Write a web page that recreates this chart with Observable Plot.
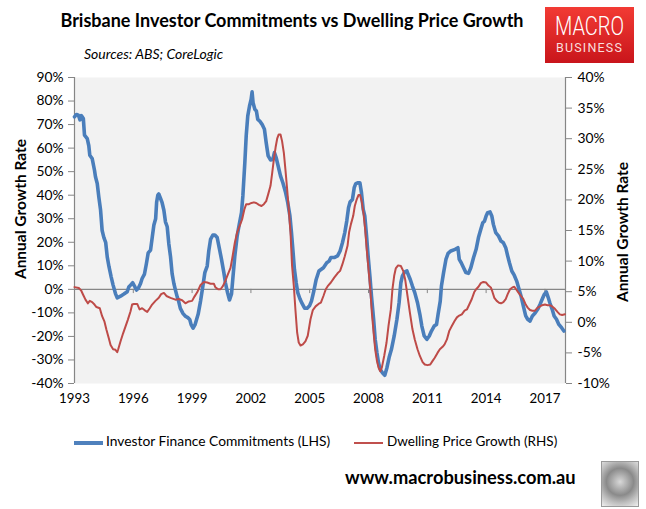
<!DOCTYPE html>
<html>
<head>
<meta charset="utf-8">
<script src="https://cdn.jsdelivr.net/npm/d3@7"></script>
<script src="https://cdn.jsdelivr.net/npm/@observablehq/plot@0.6"></script>
<style>
  html, body { margin: 0; padding: 0; background: #fff; }
  #page { position: relative; width: 646px; height: 509px; overflow: hidden; font-family: Lato, "Open Sans", sans-serif; color: #000; }
  #chart { position: absolute; left: 0; top: 0; }
  .abs { position: absolute; white-space: nowrap; }
</style>
</head>
<body>
<div id="page">
  <div id="chart"></div>
  <div class="abs" id="title" style="left:0; width:584px; top:9px; text-align:center; font-weight:700; font-size:18px;">Brisbane Investor Commitments vs Dwelling Price Growth</div>
  <div class="abs" style="left:84px; top:45px; font-style:italic; font-size:14px;">Sources: ABS; CoreLogic</div>
  <div class="abs" style="left:545px; top:7px; width:89px; height:56px; background:linear-gradient(#f23b34,#c9151b);">
    <div class="abs" style="left:0; width:89px; top:7px; text-align:center; color:#fff; font-family:Roboto, sans-serif; font-weight:300; font-size:25px; line-height:26px; transform:scaleX(0.8);">MACRO</div>
    <div class="abs" style="left:0; width:89px; top:34px; text-align:center; color:#f9dede; font-family:Roboto, sans-serif; font-size:12.5px; letter-spacing:1.2px; line-height:14px;">BUSINESS</div>
  </div>
  <div class="abs" style="left:20px; top:209px; transform:translate(-50%,-50%) rotate(-90deg); font-weight:700; font-size:15.5px;">Annual Growth Rate</div>
  <div class="abs" style="left:622px; top:232px; transform:translate(-50%,-50%) rotate(-90deg); font-weight:700; font-size:15.5px;">Annual Growth Rate</div>
  <div class="abs" style="left:74px; top:432px; font-size:13.8px; line-height:18px;">
    <span style="display:inline-block; width:29px; height:4px; background:#4f81bd; vertical-align:middle; margin-right:3px;"></span>Investor Finance Commitments (LHS)
  </div>
  <div class="abs" style="left:354px; top:432px; font-size:13.5px; line-height:18px;">
    <span style="display:inline-block; width:29px; height:2px; background:#c0504d; vertical-align:middle; margin-right:4px;"></span>Dwelling Price Growth (RHS)
  </div>
  <div class="abs" style="left:345px; top:466px; font-weight:700; font-size:18.3px;">www.macrobusiness.com.au</div>
  <div class="abs" style="left:601px; top:461px; width:36px; height:44px; border:1px solid #9a9a9a; background:radial-gradient(circle at 50% 45%, #d8d8d8 0%, #8a8a8a 45%, #bdbdbd 70%, #f0f0f0 100%);"></div>
</div>
<script>
// Investor finance commitments, annual growth (LHS, %)
const invDates = [
  1993.00,1993.10,1993.20,1993.28,1993.35,1993.45,1993.51,1993.65,1993.73,1993.78,1993.90,
  1994.02,1994.07,1994.16,1994.24,1994.33,1994.41,1994.50,1994.59,1994.67,1994.76,1994.87,1994.97,
  1995.09,1995.18,1995.35,1995.52,1995.69,1995.77,1995.86,1995.97,
  1996.06,1996.16,1996.25,1996.37,1996.45,1996.57,1996.67,1996.76,1996.88,1996.97,
  1997.05,1997.14,1997.19,1997.25,1997.30,1997.39,1997.47,1997.56,1997.64,1997.73,1997.81,1997.90,1997.98,
  1998.07,1998.15,1998.24,1998.32,1998.40,1998.54,1998.66,1998.78,1998.88,1998.95,
  1999.05,1999.15,1999.31,1999.43,1999.55,1999.65,1999.77,1999.85,1999.94,
  2000.06,2000.16,2000.28,2000.40,2000.50,2000.62,2000.70,2000.81,2000.91,
  2001.01,2001.09,2001.18,2001.30,2001.42,2001.52,2001.59,2001.69,2001.76,2001.84,2001.93,
  2002.01,2002.06,2002.11,2002.20,2002.28,2002.35,2002.45,2002.57,2002.69,2002.78,2002.88,
  2003.00,2003.12,2003.20,2003.29,2003.39,2003.51,2003.63,2003.77,2003.88,2003.99,
  2004.07,2004.14,2004.22,2004.31,2004.39,2004.50,2004.61,2004.74,2004.87,2004.99,
  2005.09,2005.21,2005.33,2005.47,2005.70,2005.87,2005.99,
  2006.08,2006.25,2006.42,2006.55,2006.67,2006.79,2006.89,2006.98,
  2007.06,2007.18,2007.27,2007.35,2007.47,2007.56,2007.64,2007.73,2007.81,2007.90,2007.98,
  2008.07,2008.15,2008.26,2008.34,2008.43,2008.51,2008.60,2008.71,2008.83,2008.94,
  2009.05,2009.17,2009.31,2009.45,2009.56,2009.65,2009.73,2009.85,2009.96,
  2010.02,2010.13,2010.24,2010.36,2010.50,2010.62,2010.72,2010.84,2010.98,
  2011.10,2011.21,2011.35,2011.47,2011.55,2011.66,2011.72,2011.83,2011.95,
  2012.06,2012.20,2012.42,2012.56,2012.63,2012.73,2012.85,2012.97,
  2013.10,2013.22,2013.36,2013.49,2013.61,2013.73,2013.83,2013.92,
  2014.00,2014.08,2014.20,2014.29,2014.37,2014.49,2014.63,2014.76,2014.88,
  2015.00,2015.10,2015.19,2015.31,2015.44,2015.56,2015.68,2015.78,2015.90,
  2016.02,2016.12,2016.24,2016.36,2016.49,2016.63,2016.75,2016.86,2016.97,
  2017.07,2017.17,2017.25,2017.37,2017.47,2017.59,2017.71,2017.85,2017.97
];
const invGrowth = [
  73.3,74.3,74.0,72.0,73.8,72.6,65.5,64.0,61.0,57.0,55.6,
  50.6,47.8,45.0,39.3,33.7,25.0,22.0,20.0,13.8,9.6,5.3,1.8,
  -1.8,-3.6,-2.9,-2.0,-1.0,1.0,1.8,2.8,
  1.4,-0.3,0.4,2.5,4.6,6.5,11.0,15.5,16.7,22.3,
  27.3,30.0,37.0,40.0,40.5,38.6,36.8,33.6,28.7,26.6,19.5,13.8,6.7,
  2.5,-0.3,-3.2,-5.3,-8.1,-10.3,-11.4,-12.0,-12.8,-15.0,
  -16.5,-15.0,-10.5,-5.0,1.4,7.1,9.9,16.3,21.2,
  23.1,23.1,22.0,17.0,12.7,7.1,2.8,-1.5,-4.5,
  -2.0,5.7,14.2,22.7,28.3,32.6,39.7,53.8,65.2,73.7,77.9,
  80.7,83.9,79.3,76.5,75.8,72.2,71.5,70.1,68.0,62.3,56.7,
  55.0,55.2,58.1,55.9,52.4,48.2,45.3,41.1,36.8,31.2,
  24.1,17.0,8.5,2.8,-1.4,-4.0,-6.0,-8.0,-8.0,-7.0,
  -5.0,-0.7,4.2,7.8,9.2,11.3,12.0,
  13.5,13.5,14.2,16.3,19.8,24.1,29.0,34.7,
  37.1,38.2,43.2,44.9,45.3,45.3,41.1,34.0,31.2,22.7,14.2,
  5.7,-2.8,-12.7,-21.2,-26.9,-31.2,-34.0,-35.4,-36.5,-33.3,
  -29.0,-25.5,-19.8,-12.7,-5.7,2.8,5.7,7.4,7.8,
  6.4,4.2,1.4,-1.4,-5.7,-10.6,-15.6,-19.8,-21.2,
  -19.8,-17.7,-15.6,-14.9,-10.6,-5.0,1.4,7.1,12.7,
  15.3,16.3,17.0,17.7,12.7,11.3,9.2,7.1,
  6.8,9.2,13.5,17.0,22.0,25.5,28.3,29.0,
  31.2,32.6,32.9,31.2,27.6,24.1,22.7,20.5,19.8,
  17.7,14.2,11.3,7.8,5.9,3.5,0.0,-2.8,-7.1,
  -11.3,-12.7,-13.5,-11.3,-10.2,-8.5,-6.4,-4.2,-2.1,
  -1.1,-3.5,-5.7,-8.5,-11.3,-12.7,-14.9,-16.3,-17.7
];
// Dwelling price growth, annual (RHS, %)
const priceDates = [
  1993.00,1993.22,1993.34,1993.44,1993.56,1993.68,1993.78,1993.90,
  1994.02,1994.12,1994.29,1994.41,1994.53,1994.63,1994.75,1994.84,1994.97,
  1995.09,1995.18,1995.23,1995.35,1995.48,1995.60,1995.72,1995.86,1995.94,
  1996.03,1996.20,1996.32,1996.45,1996.57,1996.71,1996.84,1996.96,
  1997.13,1997.30,1997.42,1997.56,1997.69,1997.90,
  1998.15,1998.32,1998.49,1998.66,1998.83,
  1999.00,1999.12,1999.26,1999.43,1999.60,1999.77,1999.94,
  2000.11,2000.19,2000.33,2000.45,2000.57,2000.70,2000.82,2000.96,
  2001.04,2001.18,2001.30,2001.42,2001.55,2001.67,2001.76,2001.90,
  2002.03,2002.15,2002.27,2002.41,2002.54,2002.66,2002.78,2002.88,
  2003.00,2003.09,2003.17,2003.26,2003.34,2003.42,2003.51,2003.59,2003.68,2003.76,2003.85,2003.93,
  2004.02,2004.10,2004.19,2004.27,2004.36,2004.44,2004.53,2004.65,2004.78,2004.90,
  2005.04,2005.16,2005.30,2005.45,2005.57,2005.70,2005.82,2005.94,
  2006.08,2006.25,2006.42,2006.55,2006.67,2006.79,2006.93,
  2007.01,2007.10,2007.22,2007.30,2007.40,2007.49,2007.57,2007.66,2007.74,2007.83,2007.91,
  2008.00,2008.09,2008.17,2008.26,2008.34,2008.43,2008.51,2008.60,2008.68,2008.80,2008.92,
  2009.02,2009.14,2009.22,2009.31,2009.39,2009.51,2009.65,2009.77,2009.87,2009.99,
  2010.11,2010.24,2010.36,2010.50,2010.62,2010.76,2010.87,
  2011.01,2011.15,2011.27,2011.38,2011.52,2011.64,2011.78,2011.88,
  2012.00,2012.12,2012.25,2012.39,2012.51,2012.63,2012.76,2012.90,
  2013.02,2013.14,2013.27,2013.39,2013.49,2013.61,2013.73,2013.86,
  2014.00,2014.12,2014.24,2014.32,2014.42,2014.54,2014.66,2014.76,2014.88,
  2015.00,2015.10,2015.22,2015.34,2015.44,2015.53,2015.64,2015.78,2015.90,
  2016.02,2016.12,2016.24,2016.36,2016.49,2016.63,2016.75,2016.86,
  2017.00,2017.14,2017.25,2017.37,2017.51,2017.64,2017.76,2017.88,2018.02
];
const priceGrowth = [
  5.75,5.6,5.2,4.5,3.7,3.1,3.5,3.3,
  2.9,2.5,2.3,1.0,0.1,-1.2,-2.6,-3.7,-4.4,
  -4.5,-4.9,-4.4,-3.1,-1.8,-0.7,0.4,1.8,2.9,
  3.0,3.0,2.1,2.3,2.0,1.7,2.3,2.9,
  3.5,4.0,4.6,4.8,4.3,4.0,
  3.7,3.8,3.6,3.1,3.4,
  3.5,4.2,4.9,6.1,6.6,6.5,6.3,
  6.3,5.7,5.4,5.4,5.9,6.8,7.8,8.9,
  10.3,13.0,14.7,15.7,16.8,18.5,19.3,19.3,
  19.5,19.6,19.5,19.2,19.0,19.3,19.8,20.9,
  22.3,24.5,26.6,28.6,30.0,30.7,30.7,29.6,27.7,25.0,21.7,18.5,
  14.7,9.2,5.9,2.1,-1.7,-3.3,-3.8,-3.6,-3.1,-2.2,
  0.5,2.0,2.6,3.0,3.2,4.3,5.4,6.0,
  6.5,7.3,8.0,8.4,9.5,10.8,12.5,
  14.7,16.0,17.4,19.0,20.1,20.8,20.8,19.6,17.9,15.2,11.9,
  8.7,5.4,1.6,-1.7,-4.4,-6.3,-7.4,-8.0,-7.4,-5.5,-3.3,
  -0.6,2.1,5.4,7.6,8.8,9.3,9.2,8.4,7.0,4.3,
  1.6,-1.1,-2.8,-4.4,-5.5,-6.5,-6.9,
  -7.0,-6.9,-6.3,-5.8,-5.0,-4.4,-4.0,-3.6,
  -2.8,-1.4,-0.6,0.2,0.8,1.1,1.3,1.9,
  2.1,2.9,3.8,4.9,5.4,5.8,6.4,6.6,
  6.5,6.0,5.7,5.0,4.0,3.5,3.2,3.1,3.3,
  3.8,4.6,5.4,5.7,5.8,5.4,4.9,4.3,3.8,
  2.9,2.4,2.0,1.9,1.9,2.4,2.6,2.8,
  2.9,2.8,2.8,2.6,2.2,1.7,1.3,1.2,1.3
];
const xTicks = [1993, 1996, 1999, 2002, 2005, 2008, 2011, 2014, 2017];
const lhsTicks = [-40, -30, -20, -10, 0, 10, 20, 30, 40, 50, 60, 70, 80, 90];
const rhsTicks = [-10, -5, 0, 5, 10, 15, 20, 25, 30, 35, 40];
const xDomain = [1993, 2018.05];
const lhsDomain = [-40, 90];
const rhsDomain = [-10, 40];

// map a right-hand-axis value onto the left-hand scale
const k = (lhsDomain[1] - lhsDomain[0]) / (rhsDomain[1] - rhsDomain[0]);
const toLeft = r => lhsDomain[0] + (r - rhsDomain[0]) * k;
const toRight = l => rhsDomain[0] + (l - lhsDomain[0]) / k;

const inv = invDates.map((x, i) => ({x, y: invGrowth[i]}));
const price = priceDates.map((x, i) => ({x, y: toLeft(priceGrowth[i])}));

const axisGrey = "#868686";
const chart = Plot.plot({
  width: 646,
  height: 420,
  marginLeft: 74,
  marginRight: 81,
  marginTop: 77,
  marginBottom: 37,
  style: {fontFamily: "Lato, 'Open Sans', sans-serif", fontSize: "13px", background: "transparent", color: "#000"},
  x: {domain: xDomain},
  y: {domain: lhsDomain},
  marks: [
    Plot.frame({fill: "#f2f2f2", stroke: null}),
    Plot.ruleY([0], {stroke: axisGrey, strokeWidth: 1.2}),
    Plot.ruleX(xTicks, {x: d => d, y1: 0, y2: -1.8, stroke: axisGrey}),
    Plot.ruleX([xDomain[0]], {stroke: axisGrey, strokeWidth: 1.2}),
    Plot.ruleX([xDomain[1]], {stroke: axisGrey, strokeWidth: 1.2}),
    Plot.axisY(lhsTicks, {anchor: "left", tickSize: 6, tickPadding: 5, stroke: axisGrey, tickFormat: d => d + "%", label: null, fontSize: 13.8}),
    Plot.axisY(rhsTicks.map(toLeft), {anchor: "right", tickSize: 6, tickPadding: 6, stroke: axisGrey, tickFormat: d => Math.round(toRight(d)) + "%", label: null, fontSize: 13.8}),
    Plot.axisX(xTicks, {anchor: "bottom", tickSize: 0, tickPadding: 10, tickFormat: d => String(d), label: null, fontSize: 13.3}),
    Plot.line(inv, {x: "x", y: "y", stroke: "#4a7ebb", strokeWidth: 3.6, strokeLinejoin: "round", curve: "linear"}),
    Plot.line(price, {x: "x", y: "y", stroke: "#be4b48", strokeWidth: 2, strokeLinejoin: "round", curve: "linear"})
  ]
});
document.getElementById("chart").appendChild(chart);
</script>
</body>
</html>
